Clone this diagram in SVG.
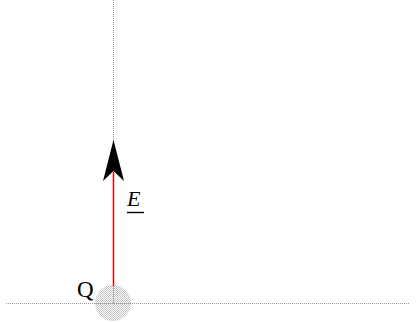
<svg xmlns="http://www.w3.org/2000/svg" width="416" height="322" viewBox="0 0 416 322">
<defs>
<pattern id="chk" width="2" height="2" patternUnits="userSpaceOnUse">
<rect x="0" y="0" width="1" height="1" fill="#888"/>
<rect x="1" y="1" width="1" height="1" fill="#888"/>
</pattern>
<style>
.axis{stroke:#999;stroke-width:1;stroke-dasharray:1 1;fill:none}
.lbl{font-family:"Liberation Serif",serif;fill:#000}
</style>
</defs>
<g id="axes">
<line class="axis" x1="113.5" y1="0" x2="113.5" y2="303"/>
<line class="axis" x1="6" y1="303.5" x2="410" y2="303.5"/>
</g>
<g id="charge">
<circle cx="113" cy="303" r="18" fill="url(#chk)" opacity="0.5"/>
<text class="lbl" x="77" y="297" font-size="23">Q</text>
</g>
<g id="connectors">
<line x1="113.5" y1="286" x2="113.5" y2="172" stroke="#e00" stroke-width="1.5"/>
<path d="M113.5 140 L124 181 L113.5 171 L103 181 Z" fill="#000"/>
</g>
<g id="field">
<text class="lbl" x="127" y="206" font-size="22" font-style="italic">E</text>
<line x1="127" y1="212.5" x2="144" y2="212.5" stroke="#000" stroke-width="1.4"/>
</g>
</svg>
